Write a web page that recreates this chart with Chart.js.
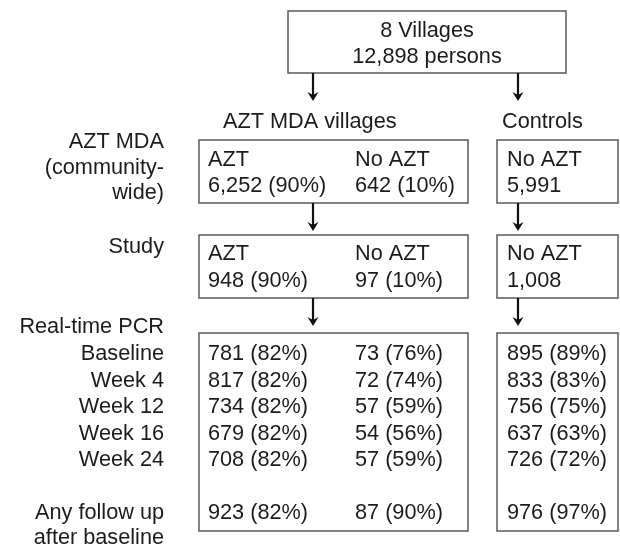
<!DOCTYPE html>
<html>
<head>
<meta charset="utf-8">
<script src="https://cdn.jsdelivr.net/npm/chart.js@4.4.1/dist/chart.umd.min.js"></script>
<style>
  body { margin: 0; background: #fff; }
</style>
</head>
<body>
<canvas id="flow" width="620" height="548"></canvas>
<script>
// data
const totalVillages = 8;
const totalPersons = 12898;
const armLabels = ['AZT MDA villages', 'Controls'];
const groupLabels = ['AZT', 'No AZT', 'No AZT'];
const stageLabels = [['AZT MDA', '(community-', 'wide)'], ['Study'], ['Real-time PCR']];
const mdaCounts = [6252, 642, 5991];
const mdaPercents = [90, 10, null];
const studyCounts = [948, 97, 1008];
const studyPercents = [90, 10, null];
const pcrLabels = ['Baseline', 'Week 4', 'Week 12', 'Week 16', 'Week 24'];
const pcrAzt = [781, 817, 734, 679, 708];
const pcrAztPct = [82, 82, 82, 82, 82];
const pcrNoAzt = [73, 72, 57, 54, 57];
const pcrNoAztPct = [76, 74, 59, 56, 59];
const pcrControl = [895, 833, 756, 637, 726];
const pcrControlPct = [89, 83, 75, 63, 72];
const followUpLabels = ['Any follow up', 'after baseline'];
const followUpCounts = [923, 87, 976];
const followUpPct = [82, 90, 97];

// layout (in canvas units, mapped through the hidden linear scales)
const FONT = '21.7px "Liberation Sans", Arial, sans-serif';
const labelRight = 164;
const colText = [208, 355, 507];
const arrowX = [313, 518];
const mdaBox = [199, 468];
const ctrlBox = [497, 618];

const fmt = (n, p) => n.toLocaleString('en-US') + (p == null ? '' : ` (${p}%)`);

const flowPlugin = {
  id: 'flow',
  afterDraw(chart) {
    const ctx = chart.ctx;
    const sx = v => chart.scales.x.getPixelForValue(v);
    const sy = v => chart.scales.y.getPixelForValue(v);

    const text = (s, x, y, align = 'left') => {
      ctx.textAlign = align;
      ctx.fillText(s, sx(x), sy(y));
    };
    const box = (x0, x1, y0, y1) => {
      ctx.strokeRect(sx(x0), sy(y0), sx(x1) - sx(x0), sy(y1) - sy(y0));
    };
    // line with a small filled head
    const arrow = (x, y0, y1) => {
      ctx.beginPath();
      ctx.moveTo(sx(x), sy(y0));
      ctx.lineTo(sx(x), sy(y1) - 6);
      ctx.stroke();
      ctx.beginPath();
      ctx.moveTo(sx(x) - 5.5, sy(y1) - 9);
      ctx.lineTo(sx(x), sy(y1) - 6);
      ctx.lineTo(sx(x) + 5.5, sy(y1) - 9);
      ctx.lineTo(sx(x), sy(y1));
      ctx.closePath();
      ctx.fill();
    };

    ctx.save();
    ctx.font = FONT;
    ctx.textBaseline = 'alphabetic';

    // boxes
    ctx.strokeStyle = '#5a5a5a';
    ctx.lineWidth = 1.5;
    box(288, 566, 11, 73);
    box(mdaBox[0], mdaBox[1], 140, 203);
    box(ctrlBox[0], ctrlBox[1], 140, 203);
    box(mdaBox[0], mdaBox[1], 235, 298);
    box(ctrlBox[0], ctrlBox[1], 235, 298);
    box(mdaBox[0], mdaBox[1], 333, 531);
    box(ctrlBox[0], ctrlBox[1], 333, 531);

    // arrows
    ctx.strokeStyle = '#111';
    ctx.fillStyle = '#111';
    ctx.lineWidth = 2.2;
    arrow(arrowX[0], 73, 101);
    arrow(arrowX[1], 73, 101);
    arrow(arrowX[0], 203, 231);
    arrow(arrowX[1], 203, 231);
    arrow(arrowX[0], 298, 326);
    arrow(arrowX[1], 298, 326);

    ctx.fillStyle = '#1c1c1c';

    // top box
    text(`${totalVillages} Villages`, 427, 37, 'center');
    text(`${totalPersons.toLocaleString('en-US')} persons`, 427, 63, 'center');

    // arm headings
    text(armLabels[0], 223, 128);
    text(armLabels[1], 502, 128);

    // stage labels
    [148, 174, 199].forEach((y, i) => text(stageLabels[0][i], labelRight, y, 'right'));
    text(stageLabels[1][0], labelRight, 253, 'right');
    text(stageLabels[2][0], labelRight, 333, 'right');

    // MDA + study boxes
    groupLabels.forEach((g, i) => {
      text(g, colText[i], 166);
      text(fmt(mdaCounts[i], mdaPercents[i]), colText[i], 192);
      text(g, colText[i], 260);
      text(fmt(studyCounts[i], studyPercents[i]), colText[i], 287);
    });

    // PCR rows
    const pcrY = [360, 386.5, 413, 439.5, 466];
    pcrLabels.forEach((lab, r) => {
      text(lab, labelRight, pcrY[r], 'right');
      text(fmt(pcrAzt[r], pcrAztPct[r]), colText[0], pcrY[r]);
      text(fmt(pcrNoAzt[r], pcrNoAztPct[r]), colText[1], pcrY[r]);
      text(fmt(pcrControl[r], pcrControlPct[r]), colText[2], pcrY[r]);
    });

    // follow up
    text(followUpLabels[0], labelRight, 519, 'right');
    text(followUpLabels[1], labelRight, 544, 'right');
    followUpCounts.forEach((n, i) => text(fmt(n, followUpPct[i]), colText[i], 519));

    ctx.restore();
  }
};

new Chart(document.getElementById('flow'), {
  type: 'scatter',
  data: { datasets: [{ data: [], pointRadius: 0 }] },
  options: {
    responsive: false,
    animation: false,
    layout: { padding: 0 },
    plugins: { legend: { display: false }, tooltip: { enabled: false } },
    scales: {
      x: { type: 'linear', min: 0, max: 620, display: false },
      y: { type: 'linear', min: 0, max: 548, reverse: true, display: false }
    }
  },
  plugins: [flowPlugin]
});
</script>
</body>
</html>
